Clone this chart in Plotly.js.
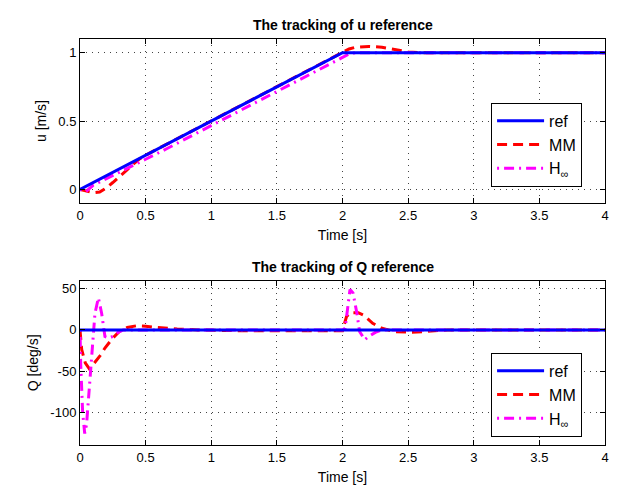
<!DOCTYPE html>
<html>
<head>
<meta charset="utf-8">
<script src="https://cdn.plot.ly/plotly-3.0.1.min.js"></script>
<style>html,body{margin:0;padding:0;background:#fff;}#chart{width:630px;height:491px;}</style>
</head>
<body>
<div id="chart"></div>
<script>
// ---- data ----
const seriesNames = ["ref", "MM", "H<sub>∞</sub>"];
const xTicks = [0, 0.5, 1, 1.5, 2, 2.5, 3, 3.5, 4];
const uTicks = [0, 0.5, 1];
const qTicks = [-100, -50, 0, 50];

// u tracking
const tRefU = [0, 2, 4];
const uRef  = [0, 1, 1];
const tMMU  = [0, 0.05, 0.1, 0.15, 0.2, 0.25, 0.3, 0.35, 0.4, 0.45, 0.5, 0.7, 1.0, 1.5, 1.9, 2.0, 2.05, 2.1, 2.2, 2.3, 2.4, 2.5, 2.6, 3, 4];
const uMM   = [0, -0.015, -0.025, -0.02, 0.01, 0.05, 0.09, 0.135, 0.18, 0.22, 0.25, 0.35, 0.5, 0.75, 0.95, 1.0, 1.027, 1.04, 1.046, 1.04, 1.02, 1.005, 1.0, 1.0, 1.0];
const tHU   = [0, 0.04, 0.1, 0.23, 0.5, 0.66, 1.0, 1.5, 2.0, 2.05, 2.1, 2.2, 4];
const uH    = [0, -0.02, 0.03, 0.09, 0.22, 0.297, 0.465, 0.715, 0.965, 0.99, 1.0, 1.0, 1.0];

// Q tracking
const tRefQ = [0, 4];
const qRef  = [0, 0];
const tMMQ  = [0, 0.013, 0.04, 0.07, 0.1, 0.127, 0.16, 0.19, 0.25, 0.3, 0.36, 0.43, 0.5, 0.58, 0.74, 0.9, 1.2, 2.0, 2.03, 2.06, 2.12, 2.16, 2.23, 2.3, 2.39, 2.53, 2.68, 2.8, 3, 4];
const qMM   = [0, -24, -40, -47, -42, -37, -30, -22, -10, -2, 3, 5, 4.5, 3, 1, 0, -1, -1, 16, 21, 21, 18, 8, 2, -2, -3, -1, 0, 0, 0];
const tHQ   = [0, 0.005, 0.02, 0.036, 0.05, 0.07, 0.089, 0.1, 0.114, 0.14, 0.165, 0.19, 0.22, 0.25, 0.29, 0.33, 0.5, 2.0, 2.02, 2.044, 2.057, 2.08, 2.11, 2.13, 2.17, 2.2, 2.25, 2.3, 4];
const qH    = [0, -40, -100, -126, -115, -70, -32, -5, 20, 39, 20, -8, -10, -8, -3, 0, 0, 0, 2, 37, 49, 45, 20, -2, -12, -8, -3, 0, 0];

const colors = ["#0000ff", "#ff0000", "#ff00ff"];
const dashes = ["solid", "10px,6px", "2px,5px,10px,5px"];
const W = 3;

function tr(x, y, i, xa, ya, leg) {
  return {x: x, y: y, xaxis: xa, yaxis: ya, type: "scatter", mode: "lines",
    name: seriesNames[i], legend: leg, legendgroup: leg + i, legendrank: i + 1,
    line: {color: colors[i], width: W, dash: dashes[i]}};
}

const data = [
  tr(tRefU, uRef, 0, "x", "y", "legend"),
  tr(tMMU, uMM, 1, "x", "y", "legend"),
  tr(tHU, uH, 2, "x", "y", "legend"),
  tr(tRefQ, qRef, 0, "x2", "y2", "legend2"),
  tr(tMMQ, qMM, 1, "x2", "y2", "legend2"),
  tr(tHQ, qH, 2, "x2", "y2", "legend2")
];
// draw ref on top
const ordered = [data[1], data[2], data[0], data[4], data[5], data[3]];

const font = {family: "Liberation Sans, Arial, Helvetica, sans-serif", size: 13, color: "#000"};
function ax(extra) {
  return Object.assign({
    showline: true, linecolor: "#000", linewidth: 1, mirror: "ticks",
    ticks: "inside", ticklen: 5, tickcolor: "#000",
    showgrid: true, gridcolor: "#444", griddash: "1px,5px", gridwidth: 1,
    zeroline: false, tickfont: {size: 13}
  }, extra);
}
const legendStyle = {
  bgcolor: "#fff", bordercolor: "#000", borderwidth: 1,
  font: {size: 16}, xanchor: "left", yanchor: "top", x: 0.783,
  tracegroupgap: 5, itemwidth: 47, traceorder: "normal"
};

const layout = {
  width: 630, height: 491,
  margin: {l: 80, r: 25, t: 39, b: 46},
  paper_bgcolor: "#fff", plot_bgcolor: "#fff",
  font: font, showlegend: true,
  xaxis: ax({domain: [0, 1], range: [0, 4], tickvals: xTicks, ticktext: xTicks.map(String), anchor: "y",
    title: {text: "Time [s]", font: {size: 14}, standoff: 8}}),
  yaxis: ax({domain: [0.596, 1], range: [-0.1, 1.1], tickvals: uTicks, ticktext: uTicks.map(String), anchor: "x",
    title: {text: "u [m/s]", font: {size: 14}, standoff: 8}}),
  xaxis2: ax({domain: [0, 1], range: [0, 4], tickvals: xTicks, ticktext: xTicks.map(String), anchor: "y2",
    title: {text: "Time [s]", font: {size: 14}, standoff: 8}}),
  yaxis2: ax({domain: [0, 0.405], range: [-140, 60], tickvals: qTicks, ticktext: qTicks.map(String), anchor: "x2",
    title: {text: "Q [deg/s]", font: {size: 14}, standoff: 8}}),
  legend: Object.assign({}, legendStyle, {y: 0.843}),
  legend2: Object.assign({}, legendStyle, {y: 0.227}),
  annotations: [
    {text: "<b>The tracking of u reference</b>", xref: "paper", yref: "paper", x: 0.5, y: 1, yshift: 4,
     xanchor: "center", yanchor: "bottom", showarrow: false, font: {size: 14}},
    {text: "<b>The tracking of Q reference</b>", xref: "paper", yref: "paper", x: 0.5, y: 0.405, yshift: 4,
     xanchor: "center", yanchor: "bottom", showarrow: false, font: {size: 14}}
  ]
};

Plotly.newPlot("chart", ordered, layout, {displayModeBar: false, staticPlot: true});
</script>
</body>
</html>
